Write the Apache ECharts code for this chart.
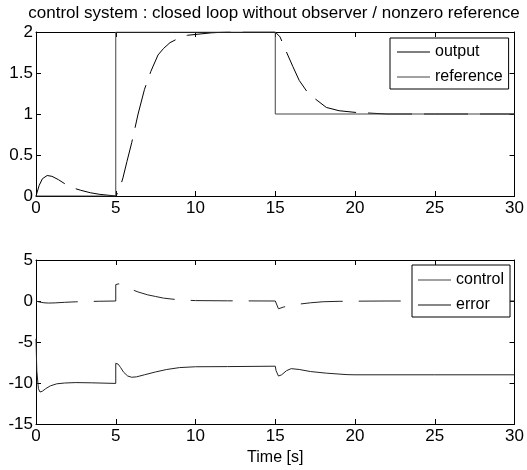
<!DOCTYPE html>
<html>
<head>
<meta charset="utf-8">
<script src="https://cdn.jsdelivr.net/npm/echarts@6/dist/echarts.min.js"></script>
<style>
  html, body { margin: 0; padding: 0; background: #fff; }
  #chart { width: 527px; height: 470px; }
</style>
</head>
<body>
<div id="chart"></div>
<script>
// 数据：上图 output / reference，下图 control / error
var refT = [0, 5, 5, 15, 15, 30];
var refY = [0, 0, 2, 2, 1, 1];

var outT = [0, 0.2, 0.4, 0.7, 1.0, 1.4, 1.8, 2.3, 2.8, 3.4, 4.0, 4.5, 5.0, 5.2, 5.45, 5.7, 6.0, 6.4, 6.8, 7.2, 7.65, 8.0, 8.4, 9.0, 9.5, 10, 11, 12, 13, 15, 15.3, 15.6, 16.1, 16.5, 17.0, 17.4, 18.2, 19.0, 19.5, 20, 22, 25, 30];
var outY = [0, 0.13, 0.21, 0.25, 0.24, 0.2, 0.15, 0.1, 0.07, 0.04, 0.02, 0.01, 0, 0.06, 0.22, 0.42, 0.65, 1.0, 1.3, 1.52, 1.72, 1.8, 1.87, 1.93, 1.96, 1.97, 1.99, 2, 2, 2, 1.94, 1.8, 1.58, 1.41, 1.27, 1.2, 1.08, 1.04, 1.03, 1.02, 1.0, 1, 1];

var ctrlT = [0, 0.05, 0.15, 0.25, 0.4, 0.6, 0.9, 1.3, 1.8, 2.5, 3.5, 5.0, 5.0, 5.15, 5.3, 5.5, 5.75, 6.0, 6.3, 6.8, 7.5, 8.2, 9.0, 10, 12, 15, 15.05, 15.2, 15.4, 15.7, 16.0, 16.5, 17.2, 18.2, 19.5, 20, 25, 30];
var ctrlY = [-4.6, -8.5, -10.7, -11.1, -11.0, -10.7, -10.35, -10.1, -10.0, -9.95, -9.98, -10.05, -7.6, -7.7, -8.1, -8.7, -9.15, -9.3, -9.25, -9.0, -8.65, -8.35, -8.12, -8.02, -8.0, -7.95, -8.5, -9.15, -9.0, -8.5, -8.25, -8.35, -8.6, -8.8, -8.98, -9.0, -9.0, -9.0];

var errT = [0, 0.2, 0.5, 0.8, 1.2, 1.8, 2.5, 3.2, 4.0, 5.0, 5.0, 5.2, 5.6, 6.0, 6.4, 7.0, 7.5, 8.0, 9.0, 10, 12, 15, 15, 15.2, 15.5, 16, 16.5, 17.2, 18, 19, 20, 22, 30];
var errY = [0, -0.12, -0.22, -0.25, -0.23, -0.16, -0.1, -0.06, -0.03, 0, 2.0, 2.1, 1.75, 1.4, 1.1, 0.75, 0.55, 0.35, 0.13, 0.05, 0.02, 0, 0, -0.95, -0.75, -0.5, -0.38, -0.22, -0.09, -0.04, -0.02, 0, 0];

var timeTicks = { min: 0, max: 30, interval: 5 };

function pairs(t, y) {
    return t.map(function (v, i) { return [v, y[i]]; });
}

var font = "'Liberation Sans', Arial, sans-serif";

function xAxisPair(gridIndex) {
    var base = {
        type: 'value', gridIndex: gridIndex,
        min: timeTicks.min, max: timeTicks.max, interval: timeTicks.interval,
        axisLine: { show: true, onZero: false, lineStyle: { color: '#000', width: 1 } },
        axisTick: { show: true, inside: true, length: 5, lineStyle: { color: '#000' } },
        splitLine: { show: false }
    };
    var bottom = Object.assign({}, base, {
        position: 'bottom',
        axisLabel: { color: '#000', fontSize: 17, fontFamily: font, margin: 4 }
    });
    var top = Object.assign({}, base, { position: 'top', axisLabel: { show: false } });
    if (gridIndex === 1) {
        bottom.name = 'Time [s]';
        bottom.nameLocation = 'middle';
        bottom.nameGap = 26;
        bottom.nameTextStyle = { color: '#000', fontSize: 16, fontFamily: font };
    }
    return [bottom, top];
}

function yAxisPair(gridIndex, min, max, interval) {
    var base = {
        type: 'value', gridIndex: gridIndex,
        min: min, max: max, interval: interval,
        axisLine: { show: true, onZero: false, lineStyle: { color: '#000', width: 1 } },
        axisTick: { show: true, inside: true, length: 5, lineStyle: { color: '#000' } },
        splitLine: { show: false }
    };
    var left = Object.assign({}, base, {
        position: 'left',
        axisLabel: { color: '#000', fontSize: 17, fontFamily: font, margin: 3 }
    });
    var right = Object.assign({}, base, { position: 'right', axisLabel: { show: false } });
    return [left, right];
}

var myChart = echarts.init(document.getElementById('chart'));

var legendBase = {
    orient: 'vertical',
    icon: 'rect',
    itemWidth: 33,
    itemHeight: 1,
    itemGap: 7,
    backgroundColor: '#fff',
    borderColor: '#000',
    borderWidth: 1,
    textStyle: { color: '#000', fontSize: 16, fontFamily: font, lineHeight: 18 }
};

var option = {
    animation: false,
    title: {
        text: 'control system : closed loop without observer / nonzero reference',
        left: 269,
        textAlign: 'center',
        top: 0,
        textStyle: { color: '#000', fontSize: 17, fontWeight: 'normal', fontFamily: font }
    },
    grid: [
        { left: 36, right: 12, top: 32, height: 164 },
        { left: 36, right: 12, top: 260, height: 164 }
    ],
    xAxis: xAxisPair(0).concat(xAxisPair(1)),
    yAxis: yAxisPair(0, 0, 2, 0.5).concat(yAxisPair(1, -15, 5, 5)),
    legend: [
        Object.assign({}, legendBase, {
            data: ['output', 'reference'],
            left: 390, top: 38, padding: [5, 6, 3, 7]
        }),
        Object.assign({}, legendBase, {
            data: ['control', 'error'],
            left: 412, top: 265, padding: [6, 6, 3, 6]
        })
    ],
    series: [
        {
            name: 'output', type: 'line', xAxisIndex: 0, yAxisIndex: 0,
            data: pairs(outT, outY), showSymbol: false, smooth: false,
            itemStyle: { color: '#000' },
            lineStyle: { color: '#000', width: 1, type: [44, 12] }
        },
        {
            name: 'reference', type: 'line', xAxisIndex: 0, yAxisIndex: 0,
            data: pairs(refT, refY), showSymbol: false,
            itemStyle: { color: '#444' },
            lineStyle: { color: '#444', width: 1 }
        },
        {
            name: 'control', type: 'line', xAxisIndex: 2, yAxisIndex: 2,
            data: pairs(ctrlT, ctrlY), showSymbol: false,
            itemStyle: { color: '#444' },
            lineStyle: { color: '#222', width: 1 }
        },
        {
            name: 'error', type: 'line', xAxisIndex: 2, yAxisIndex: 2,
            data: pairs(errT, errY), showSymbol: false,
            itemStyle: { color: '#111' },
            lineStyle: { color: '#222', width: 1, type: [42, 16] }
        }
    ]
};

myChart.setOption(option);
</script>
</body>
</html>
